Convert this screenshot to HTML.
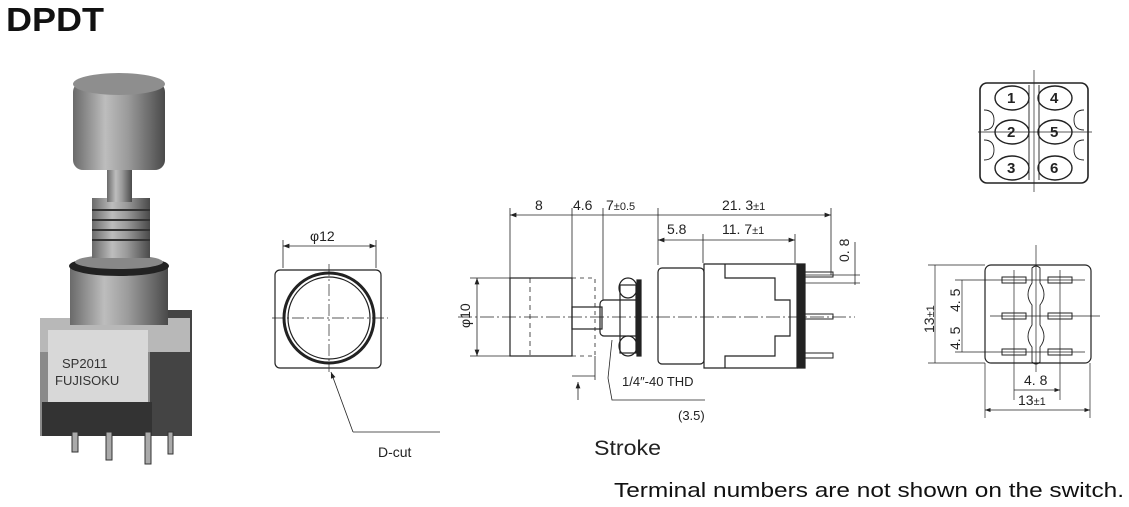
<!DOCTYPE html>
<html><head><meta charset="utf-8"><style>
html,body{margin:0;padding:0;background:#fff;width:1129px;height:507px;overflow:hidden}
svg{display:block}
text{font-family:"Liberation Sans",sans-serif;fill:#222}
</style></head><body>
<svg width="1129" height="507" viewBox="0 0 1129 507" xmlns="http://www.w3.org/2000/svg">
<defs>
<linearGradient id="cyl" x1="0" x2="1"><stop offset="0" stop-color="#6a6a6a"/><stop offset="0.35" stop-color="#bdbdbd"/><stop offset="0.6" stop-color="#9a9a9a"/><stop offset="1" stop-color="#4a4a4a"/></linearGradient>
<marker id="a" markerWidth="8" markerHeight="6" refX="8" refY="3" orient="auto-start-reverse"><path d="M0,0L8,3L0,6z" fill="#222"/></marker>
</defs>
<text x="6" y="31" font-size="33" font-weight="bold" style="fill:#111" textLength="98" lengthAdjust="spacingAndGlyphs">DPDT</text>

<!-- photo -->
<g>
<rect x="40" y="318" width="112" height="118" fill="#8a8a8a"/>
<rect x="150" y="310" width="42" height="126" fill="#444"/>
<rect x="40" y="318" width="150" height="34" fill="#b8b8b8"/>
<rect x="48" y="330" width="100" height="72" fill="#d8d8d8"/>
<text x="62" y="368" font-size="13" style="fill:#333">SP2011</text>
<text x="55" y="385" font-size="13" style="fill:#333">FUJISOKU</text>
<rect x="42" y="402" width="110" height="34" fill="#333"/>
<rect x="70" y="265" width="98" height="60" fill="url(#cyl)"/>
<ellipse cx="119" cy="266" rx="50" ry="10" fill="#222"/>
<ellipse cx="119" cy="262" rx="44" ry="7" fill="#888"/>
<rect x="92" y="198" width="58" height="60" fill="url(#cyl)"/>
<g stroke="#333" stroke-width="2"><line x1="92" y1="210" x2="150" y2="210"/><line x1="92" y1="220" x2="150" y2="220"/><line x1="92" y1="230" x2="150" y2="230"/><line x1="92" y1="240" x2="150" y2="240"/></g>
<rect x="107" y="168" width="25" height="34" fill="url(#cyl)"/>
<rect x="73" y="82" width="92" height="88" rx="10" fill="url(#cyl)"/>
<ellipse cx="119" cy="84" rx="46" ry="11" fill="#8e8e8e"/>
<g fill="#aaa" stroke="#333"><rect x="72" y="432" width="6" height="20"/><rect x="106" y="432" width="6" height="28"/><rect x="145" y="432" width="6" height="32"/><rect x="168" y="432" width="5" height="22"/></g>
</g>

<g fill="none" stroke="#222" stroke-width="1.2">
<!-- front view -->
<line x1="283" y1="240" x2="283" y2="268" stroke-width="0.8"/><line x1="376" y1="240" x2="376" y2="268" stroke-width="0.8"/>
<line x1="283" y1="246" x2="376" y2="246" stroke-width="0.8" marker-start="url(#a)" marker-end="url(#a)"/>
<rect x="275" y="270" width="106" height="98" rx="5"/>
<circle cx="329" cy="318" r="45" stroke-width="3"/>
<circle cx="329" cy="318" r="41"/>
<line x1="272" y1="318" x2="388" y2="318" stroke-width="0.7" stroke-dasharray="12 3 2 3"/>
<line x1="329" y1="264" x2="329" y2="372" stroke-width="0.7" stroke-dasharray="12 3 2 3"/>
<polyline points="353,432 331,372" stroke-width="0.8" marker-end="url(#a)"/>
<line x1="353" y1="432" x2="440" y2="432" stroke-width="0.8"/>

<!-- side view -->
<g stroke-width="0.8">
<line x1="510" y1="208" x2="510" y2="278"/><line x1="572" y1="208" x2="572" y2="278"/><line x1="603" y1="208" x2="603" y2="300"/><line x1="658" y1="208" x2="658" y2="265"/><line x1="831" y1="208" x2="831" y2="275"/><line x1="703" y1="234" x2="703" y2="263"/><line x1="795" y1="234" x2="795" y2="263"/>
<line x1="510" y1="215" x2="831" y2="215" marker-start="url(#a)" marker-end="url(#a)"/>
<line x1="658" y1="240" x2="795" y2="240" marker-start="url(#a)" marker-end="url(#a)"/>
<line x1="470" y1="278" x2="510" y2="278"/><line x1="470" y1="356" x2="510" y2="356"/>
<line x1="477" y1="278" x2="477" y2="356" marker-start="url(#a)" marker-end="url(#a)"/>
<line x1="855" y1="242" x2="855" y2="285"/><line x1="800" y1="275" x2="860" y2="275"/><line x1="800" y1="283" x2="860" y2="283"/>
<line x1="572" y1="376" x2="595" y2="376"/><line x1="595" y1="356" x2="595" y2="380"/>
<line x1="578" y1="400" x2="578" y2="382" marker-end="url(#a)"/>
<line x1="458" y1="317" x2="855" y2="317" stroke-dasharray="14 3 2 3"/>
</g>
<rect x="510" y="278" width="62" height="78"/>
<line x1="530" y1="278" x2="530" y2="356" stroke-dasharray="5 4" stroke-width="0.8"/>
<path d="M572,278H595V356H572" stroke-dasharray="4 4" stroke-width="0.8"/>
<rect x="572" y="307" width="30" height="22"/>
<rect x="600" y="300" width="40" height="36" rx="4"/>
<ellipse cx="628" cy="288" rx="9" ry="10"/><ellipse cx="628" cy="346" rx="9" ry="10"/>
<rect x="620" y="285" width="16" height="68"/>
<rect x="637" y="280" width="4" height="76" fill="#222"/>
<rect x="658" y="268" width="46" height="96" rx="4"/>
<path d="M704,264H797V368H704Z"/>
<path d="M725,264V278H775V300H790V336H775V356H725V368"/>
<path d="M797,264h8v104h-8" fill="#222"/>
<g stroke-width="1"><rect x="803" y="272" width="30" height="5"/><rect x="803" y="314" width="30" height="5"/><rect x="803" y="353" width="30" height="5"/></g>
<polyline points="608,378 612,400 705,400" stroke-width="0.8"/>
<line x1="608" y1="378" x2="612" y2="340" stroke-width="0.8"/>

<!-- top right -->
<rect x="980" y="83" width="108" height="100" rx="7" stroke-width="1.6"/>
<g stroke-width="1.4">
<ellipse cx="1012" cy="98" rx="17" ry="12"/><ellipse cx="1012" cy="132" rx="17" ry="12"/><ellipse cx="1012" cy="168" rx="17" ry="12"/>
<ellipse cx="1055" cy="98" rx="17" ry="12"/><ellipse cx="1055" cy="132" rx="17" ry="12"/><ellipse cx="1055" cy="168" rx="17" ry="12"/>
</g>
<path d="M1029,85V180M1039,85V180" stroke-width="0.9"/>
<path d="M984,110q10,0 10,10q0,10 -10,10M984,140q10,0 10,10q0,10 -10,10M1084,110q-10,0 -10,10q0,10 10,10M1084,140q-10,0 -10,10q0,10 10,10" stroke-width="0.9"/>
<line x1="1034" y1="70" x2="1034" y2="192" stroke-width="0.7"/>
<line x1="978" y1="132" x2="1092" y2="132" stroke-width="0.7"/>

<!-- bottom right -->
<rect x="985" y="265" width="106" height="98" rx="6"/>
<g stroke-width="1"><rect x="1002" y="277" width="24" height="6"/><rect x="1048" y="277" width="24" height="6"/><rect x="1002" y="313" width="24" height="6"/><rect x="1048" y="313" width="24" height="6"/><rect x="1002" y="349" width="24" height="6"/><rect x="1048" y="349" width="24" height="6"/></g>
<path d="M1032,268q4,-4 8,0V283q8,12 0,22V325q8,12 0,22V362q-4,4 -8,0V347q-8,-10 0,-22V305q-8,-10 0,-22Z" stroke-width="0.9"/>
<g stroke-width="0.7">
<line x1="1036" y1="245" x2="1036" y2="372"/><line x1="990" y1="316" x2="1100" y2="316"/>
<line x1="955" y1="280" x2="1085" y2="280"/><line x1="955" y1="352" x2="1085" y2="352"/>
<line x1="928" y1="265" x2="985" y2="265"/><line x1="928" y1="363" x2="985" y2="363"/>
<line x1="935" y1="265" x2="935" y2="363"/><line x1="962" y1="280" x2="962" y2="352"/>
<line x1="1014" y1="270" x2="1014" y2="400"/><line x1="1060" y1="270" x2="1060" y2="400"/>
<line x1="1014" y1="390" x2="1060" y2="390" marker-end="url(#a)"/>
<line x1="985" y1="363" x2="985" y2="418"/><line x1="1090" y1="363" x2="1090" y2="418"/>
<line x1="985" y1="410" x2="1090" y2="410" marker-start="url(#a)" marker-end="url(#a)"/>
</g>
</g>

<g font-size="14">
<text x="310" y="241">φ12</text>
<text x="378" y="457">D-cut</text>
<text x="535" y="210">8</text>
<text x="573" y="210">4.6</text>
<text x="606" y="210">7<tspan font-size="11">±0.5</tspan></text>
<text x="722" y="210">21. 3<tspan font-size="11">±1</tspan></text>
<text x="667" y="234">5.8</text>
<text x="722" y="234">11. 7<tspan font-size="11">±1</tspan></text>
<text transform="translate(849,262) rotate(-90)">0. 8</text>
<text transform="translate(470,328) rotate(-90)">φ10</text>
<text x="622" y="386" font-size="13">1/4″-40 THD</text>
<text x="678" y="420" font-size="13">(3.5)</text>
<text x="594" y="455" font-size="21" textLength="67" lengthAdjust="spacingAndGlyphs">Stroke</text>
<text x="614" y="497" font-size="20" style="fill:#111" textLength="510" lengthAdjust="spacingAndGlyphs">Terminal numbers are not shown on the switch.</text>
<g font-size="15" font-weight="bold">
<text x="1007" y="103">1</text><text x="1007" y="137">2</text><text x="1007" y="173">3</text>
<text x="1050" y="103">4</text><text x="1050" y="137">5</text><text x="1050" y="173">6</text>
</g>
<text transform="translate(934,333) rotate(-90)">13<tspan font-size="11">±1</tspan></text>
<text transform="translate(960,312) rotate(-90)">4. 5</text>
<text transform="translate(960,350) rotate(-90)">4. 5</text>
<text x="1024" y="385">4. 8</text>
<text x="1018" y="405">13<tspan font-size="11">±1</tspan></text>
</g>
</svg>
</body></html>
